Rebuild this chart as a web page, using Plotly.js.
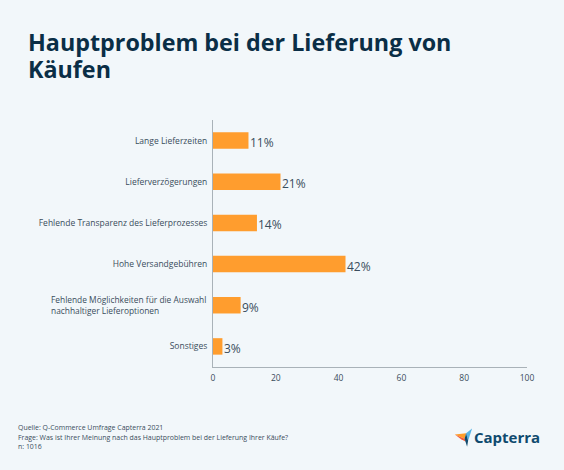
<!DOCTYPE html>
<html><head><meta charset="utf-8">
<script src="https://cdn.plot.ly/plotly-3.0.1.min.js"></script>
<style>html,body{margin:0;padding:0;background:#f2f7fa}</style></head>
<body><div id="c" style="width:564px;height:470px"></div>
<script>
const categories = ["Lange Lieferzeiten","Lieferverzögerungen","Fehlende Transparenz des Lieferprozesses","Hohe Versandgebühren","Fehlende Möglichkeiten für die Auswahl<br>nachhaltiger Lieferoptionen","Sonstiges"];
const tickLabels = ["Lange Lieferzeiten","Lieferverzögerungen","Fehlende Transparenz des Lieferprozesses","Hohe Versandgebühren","","Sonstiges"];
const values = [11.3,21.5,14,42.2,8.8,3];
const valueLabels = ["11%","21%","14%","42%","9%","3%"];
const xTicks = [0,20,40,60,80,100];
const W=564,H=470,L=212.5,R=37,T=119.5,B=103;
const PW=W-L-R,PH=H-T-B;
const px=(x)=>(x-L)/PW, py=(y)=>1-(y-T)/PH;
const txt=(x,y,text,size,color,extra)=>Object.assign({xref:'paper',yref:'paper',x:px(x),y:py(y),xanchor:'left',yanchor:'middle',showarrow:false,align:'left',text,font:{family:'"Open Sans",sans-serif',size,color}},extra||{});
const path=(pts)=>'M'+pts.map(p=>px(p[0]).toFixed(5)+','+py(p[1]).toFixed(5)).join('L')+'Z';
const valueNotes=values.map((v,i)=>({xref:'x',yref:'y',x:v,y:categories[i],text:valueLabels[i],showarrow:false,xanchor:'left',yanchor:'middle',xshift:-0.5,yshift:-2,font:{family:'"Open Sans",sans-serif',size:12,color:'#3a4d5c'}}));
const layout={
  width:W,height:H,paper_bgcolor:'#f2f7fa',plot_bgcolor:'#f2f7fa',showlegend:false,
  font:{family:'"Open Sans",sans-serif',color:'#3a4d5c'},
  margin:{l:L,r:R,t:T,b:B,pad:0},
  bargap:0.6,
  xaxis:{range:[0,100],tickvals:xTicks,showgrid:false,zeroline:false,showline:true,linecolor:'#a9b2b8',linewidth:1,ticks:'',ticklabelstandoff:3,tickfont:{size:8.5,color:'#3a4d5c'},fixedrange:true},
  yaxis:{type:'category',categories,tickvals:categories,ticktext:tickLabels,autorange:'reversed',showgrid:false,zeroline:false,showline:true,linecolor:'#a9b2b8',linewidth:1,ticks:'',ticklabelstandoff:3,tickfont:{size:8.5,color:'#3a4d5c'},fixedrange:true},
  annotations:[
    txt(25.5,41.5,'<b>Hauptproblem bei der Lieferung von</b>',23.3,'#0a2e46'),
    txt(25.5,68.5,'<b>Käufen</b>',23.3,'#0a2e46'),
    txt(15.5,428,'Quelle: Q-Commerce Umfrage Capterra 2021',6.95,'#3a4d5c'),
    txt(15.5,437.5,'Frage: Was ist Ihrer Meinung nach das Hauptproblem bei der Lieferung Ihrer Käufe?',6.95,'#3a4d5c'),
    txt(15.5,447,'n: 1016',6.95,'#3a4d5c'),
    txt(472,437.5,'<b>Capterra</b>',15,'#0f4a6e'),
    txt(48.5,305,'Fehlende Möglichkeiten für die Auswahl<br>nachhaltiger Lieferoptionen',8.4,'#3a4d5c')
  ].concat(valueNotes),
  shapes:[
    {type:'path',xref:'paper',yref:'paper',line:{width:0},fillcolor:'#ff9d28',layer:'above',path:path([[454.7,434.7],[466,433.5],[464.5,439]])},
    {type:'path',xref:'paper',yref:'paper',line:{width:0},fillcolor:'#f25c3a',layer:'above',path:path([[454.7,434.7],[464.5,439],[466,442],[461,439.5]])},
    {type:'path',xref:'paper',yref:'paper',line:{width:0},fillcolor:'#57b4e6',layer:'above',path:path([[466,433.5],[472,428.7],[468,441]])},
    {type:'path',xref:'paper',yref:'paper',line:{width:0},fillcolor:'#0f4a6e',layer:'above',path:path([[466,433.5],[468,441],[467,447],[464.5,439]])}
  ]
};
const data=[{type:'bar',orientation:'h',y:categories,x:values,marker:{color:'#ff9d2e',line:{width:0}},hoverinfo:'skip'}];
Plotly.newPlot('c',data,layout,{displayModeBar:false,responsive:false});
</script></body></html>
